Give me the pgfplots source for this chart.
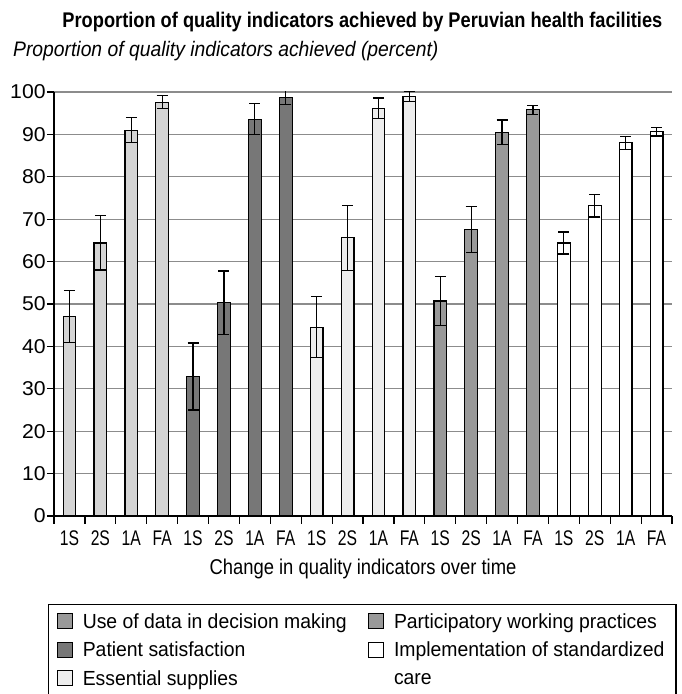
\documentclass[border=0pt]{standalone}
\usepackage{fontspec}
\setmainfont{Liberation Sans}[FakeStretch=0.86]
\newfontfamily\xtfont{Liberation Sans}[FakeStretch=0.74]
\newfontfamily\ytfont{Liberation Sans}[FakeStretch=1.06]
\newfontfamily\ylfont{Liberation Sans}[FakeStretch=0.92]
\newfontfamily\legfont{Liberation Sans}[FakeStretch=0.95]
\usepackage{pgfplots}
\pgfplotsset{compat=1.18}

\definecolor{useD}{HTML}{D4D4D4}
\definecolor{patS}{HTML}{777777}
\definecolor{essS}{HTML}{EDEDED}
\definecolor{parW}{HTML}{999999}
\definecolor{gridc}{HTML}{8C8C8C}

\pgfplotsset{
  qbar/.style={ybar, bar width=6.35pt, bar shift=0pt, draw=black,
    line width=0.6pt, forget plot,
    error bars/y dir=both, error bars/y explicit,
    error bars/error bar style={black, line width=0.6pt},
    error bars/error mark options={rotate=90, mark size=2.75pt, black, line width=0.6pt}},
}
% legend text with fixed width and row height
\newcommand{\lgtxt}[2]{\makebox[#1][l]{\rule[-3.1pt]{0pt}{11.9pt}#2}}

\begin{document}
\begin{tikzpicture}
\path[use as bounding box] (0,0) rectangle (340.5pt,347pt);
\begin{axis}[
  at={(27pt,89pt)}, anchor=south west,
  scale only axis, width=309pt, height=212pt,
  xmin=-0.5, xmax=19.5, ymin=0, ymax=100,
  axis x line*=bottom, axis y line*=left,
  axis line style={-, line width=0.6pt, black},
  ytick={0,10,...,100},
  ymajorgrids, grid style={gridc, line width=0.6pt},
  xtick={0,...,19},
  xticklabels={1S,2S,1A,FA,1S,2S,1A,FA,1S,2S,1A,FA,1S,2S,1A,FA,1S,2S,1A,FA},
  minor xtick={-0.5,0.5,...,19.5},
  major x tick style={draw=none},
  minor x tick style={black, line width=0.6pt},
  y tick style={black, line width=0.6pt},
  minor tick length=4pt, major tick length=3.5pt,
  tick align=outside,
  /pgf/number format/assume math mode=true,
  yticklabel style={font=\ytfont\fontsize{10}{12}\selectfont, inner sep=0pt, xshift=-0.5pt},
  xticklabel style={font=\xtfont\fontsize{10.6}{12}\selectfont, anchor=base, inner sep=0pt, yshift=-11.5pt},
  xticklabel shift=0pt,
  title={\bfseries Proportion of quality indicators achieved by Peruvian health facilities},
  title style={font=\fontsize{10.6}{12}\selectfont, at={(axis description cs:0.499,1.151)}, anchor=base, yshift=-6pt, inner sep=0pt},
  ylabel={\ylfont\itshape Proportion of quality indicators achieved (percent)},
  ylabel style={font=\fontsize{10.5}{12}\selectfont, rotate=-90, at={(axis description cs:-0.0668,1.0842)}, anchor=base west, inner sep=0pt},
  xlabel={Change in quality indicators over time},
  xlabel style={font=\fontsize{10.7}{12}\selectfont, at={(axis description cs:0.5,-0.139)}, anchor=base},
  legend columns=2,
  legend style={at={(axis description cs:-0.0097,-0.2075)}, anchor=north west,
    draw=black, line width=0.6pt, inner xsep=4pt, inner ysep=1.1pt,
    column sep=3pt, font=\legfont\fontsize{10.2}{11.4}\selectfont,
    cells={anchor=west, inner sep=0pt}},
  legend image code/.code={\draw[#1, draw=black, line width=0.6pt] (0pt,-3.75pt) rectangle (7.5pt,3.75pt);},
]
% Use of data in decision making
\addplot[qbar, fill=useD] coordinates {
  (0,47.1) +- (0,6.1) (1,64.4) +- (0,6.4) (2,91.0) +- (0,2.9) (3,97.6) +- (0,1.5)
};
% Patient satisfaction
\addplot[qbar, fill=patS] coordinates {
  (4,32.9) +- (0,7.9) (5,50.3) +- (0,7.5) (6,93.6) +- (0,3.6) (7,98.7) +- (0,1.6)
};
% Essential supplies
\addplot[qbar, fill=essS] coordinates {
  (8,44.5) +- (0,7.2) (9,65.6) +- (0,7.7) (10,96.2) +- (0,2.4) (11,98.9) +- (0,1.2)
};
% Participatory working practices
\addplot[qbar, fill=parW] coordinates {
  (12,50.7) +- (0,5.7) (13,67.5) +- (0,5.4) (14,90.5) +- (0,2.9) (15,95.8) +- (0,1.1)
};
% Implementation of standardized care
\addplot[qbar, fill=white] coordinates {
  (16,64.4) +- (0,2.6) (17,73.2) +- (0,2.7) (18,88.0) +- (0,1.5) (19,90.6) +- (0,1.0)
};

\addlegendimage{fill=parW}
\addlegendentry{\lgtxt{137.5pt}{Use of data in decision making}}
\addlegendimage{fill=parW}
\addlegendentry{\lgtxt{135pt}{Participatory working practices}}
\addlegendimage{fill=patS}
\addlegendentry{\lgtxt{137.5pt}{Patient satisfaction}}
\addlegendimage{fill=white}
\addlegendentry{\lgtxt{135pt}{\raisebox{0pt}[\height][0pt]{\begin{tabular}[t]{@{}l@{}}Implementation of standardized\\[2.35pt]care\end{tabular}}}}
\addlegendimage{fill=essS}
\addlegendentry{\lgtxt{137.5pt}{\rule[-6pt]{0pt}{1pt}Essential supplies}}
\end{axis}
\end{tikzpicture}
\end{document}
